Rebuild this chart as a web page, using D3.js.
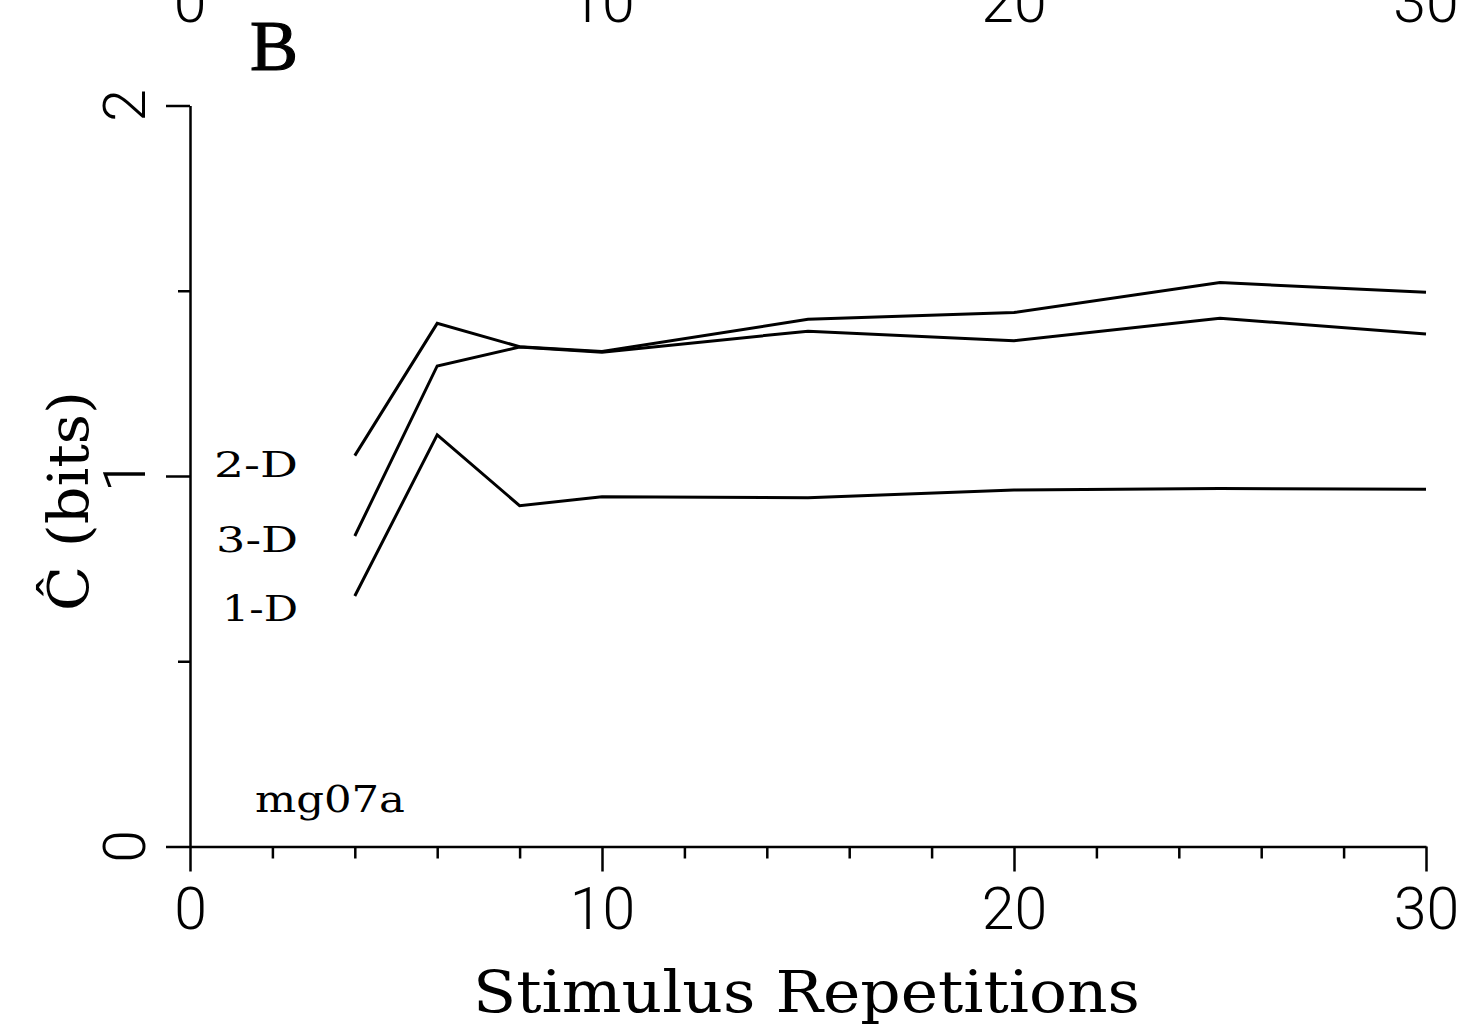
<!DOCTYPE html>
<html>
<head>
<meta charset="utf-8">
<script src="https://cdn.jsdelivr.net/npm/d3@7"></script>
<style>
  body { margin: 0; background: #fff; }
  svg { display: block; }
</style>
</head>
<body>
<svg id="chart" width="1479" height="1031"></svg>
<script>
// Stimulus repetitions at which capacity was estimated
const repetitions = [4, 6, 8, 10, 15, 20, 25, 30];

// Estimated capacity (bits) for each stimulus dimensionality
const capacity2D = [1.055, 1.412, 1.349, 1.336, 1.423, 1.441, 1.522, 1.496];
const capacity3D = [0.838, 1.297, 1.348, 1.334, 1.391, 1.365, 1.426, 1.383];
const capacity1D = [0.676, 1.111, 0.920, 0.944, 0.941, 0.962, 0.966, 0.964];

const seriesNames = ["2-D", "3-D", "1-D"];
const seriesValues = [capacity2D, capacity3D, capacity1D];

// Axis ticks
const xMajorTicks = [0, 10, 20, 30];
const xMinorTicks = [2, 4, 6, 8, 12, 14, 16, 18, 22, 24, 26, 28];
const yMajorTicks = [0, 1, 2];
const yMinorTicks = [0.5, 1.5];

const panelLabel = "B";
const unitLabel = "mg07a";
const xTitle = "Stimulus Repetitions";
const yTitle = "\u0108 (bits)";

const svg = d3.select("#chart");
const x = d3.scaleLinear().domain([0, 30]).range([190, 1426]);
const y = d3.scaleLinear().domain([0, 2]).range([846.5, 105.5]);

const tickFont = "Roboto, 'DejaVu Sans', sans-serif";
const serifFont = "'DejaVu Serif', 'Liberation Serif', serif";

function styleAxis(g) {
  g.attr("color", "#000");
  g.selectAll("path, line").attr("stroke-width", 2.5);
}

// x axis: minor ticks, then major ticks with labels
svg.append("g")
  .attr("transform", `translate(0,${y(0)})`)
  .call(d3.axisBottom(x).tickValues(xMinorTicks).tickSize(12).tickSizeOuter(0).tickFormat(""))
  .call(styleAxis)
  .call(g => g.select(".domain").remove());

const xAxisMajor = svg.append("g")
  .attr("transform", `translate(0,${y(0)})`)
  .call(d3.axisBottom(x).tickValues(xMajorTicks).tickSize(25).tickPadding(16).tickSizeOuter(0).tickFormat(d3.format("d")))
  .call(styleAxis);
xAxisMajor.selectAll("text")
  .attr("font-family", tickFont)
  .attr("font-weight", 300)
  .attr("font-size", 59)
  .attr("fill", "#000");

// y axis: minor then major ticks, labels drawn rotated
svg.append("g")
  .attr("transform", `translate(${x(0)},0)`)
  .call(d3.axisLeft(y).tickValues(yMinorTicks).tickSize(12).tickSizeOuter(0).tickFormat(""))
  .call(styleAxis)
  .call(g => g.select(".domain").remove());

svg.append("g")
  .attr("transform", `translate(${x(0)},0)`)
  .call(d3.axisLeft(y).tickValues(yMajorTicks).tickSize(24).tickSizeOuter(0).tickFormat(""))
  .call(styleAxis);

svg.append("g")
  .selectAll("text")
  .data(yMajorTicks)
  .join("text")
  .attr("transform", d => `translate(145,${y(d)}) rotate(-90)`)
  .attr("text-anchor", "middle")
  .attr("font-family", tickFont)
  .attr("font-weight", 300)
  .attr("font-size", 59)
  .text(d3.format("d"));

// tick labels of the panel above, cut by the top edge
svg.append("g")
  .selectAll("text")
  .data(xMajorTicks)
  .join("text")
  .attr("x", d => x(d))
  .attr("y", 22)
  .attr("text-anchor", "middle")
  .attr("font-family", tickFont)
  .attr("font-weight", 300)
  .attr("font-size", 59)
  .text(d3.format("d"));

// data lines
const line = d3.line()
  .x((d, i) => x(repetitions[i]))
  .y(d => y(d));

svg.append("g")
  .selectAll("path")
  .data(seriesValues)
  .join("path")
  .attr("d", d => line(d))
  .attr("fill", "none")
  .attr("stroke", "#000")
  .attr("stroke-width", 3)
  .attr("stroke-linejoin", "miter");

// series labels to the left of the curves
const seriesLabelPos = [
  { x: 214, y: 477, w: 84 },
  { x: 216, y: 552, w: 82 },
  { x: 222, y: 621, w: 76 }
];
svg.append("g")
  .selectAll("text")
  .data(seriesNames)
  .join("text")
  .attr("x", (d, i) => seriesLabelPos[i].x)
  .attr("y", (d, i) => seriesLabelPos[i].y)
  .attr("textLength", (d, i) => seriesLabelPos[i].w)
  .attr("lengthAdjust", "spacingAndGlyphs")
  .attr("font-family", serifFont)
  .attr("font-size", 35)
  .text(d => d);

// unit name
svg.append("text")
  .attr("x", 255)
  .attr("y", 812)
  .attr("textLength", 150)
  .attr("lengthAdjust", "spacingAndGlyphs")
  .attr("font-family", serifFont)
  .attr("font-size", 38)
  .text(unitLabel);

// panel letter
svg.append("text")
  .attr("x", 250)
  .attr("y", 70)
  .attr("font-family", "'Liberation Serif', 'Times New Roman', serif")
  .attr("font-size", 72)
  .attr("stroke", "#000")
  .attr("stroke-width", 1.2)
  .text(panelLabel);

// axis titles
svg.append("text")
  .attr("x", 473)
  .attr("y", 1012)
  .attr("textLength", 667)
  .attr("lengthAdjust", "spacingAndGlyphs")
  .attr("font-family", serifFont)
  .attr("font-size", 58)
  .text(xTitle);

svg.append("text")
  .attr("transform", "translate(88,501) rotate(-90)")
  .attr("text-anchor", "middle")
  .attr("textLength", 220)
  .attr("lengthAdjust", "spacingAndGlyphs")
  .attr("font-family", serifFont)
  .attr("font-size", 56)
  .text(yTitle);
</script>
</body>
</html>
